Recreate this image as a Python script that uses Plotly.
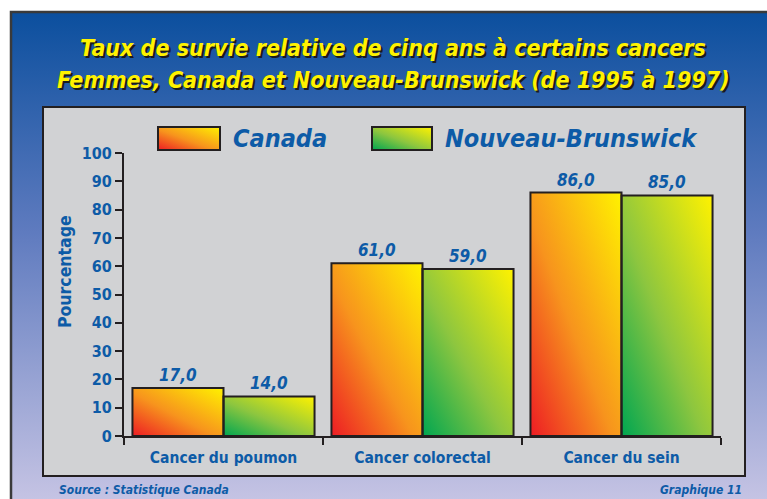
import base64
import plotly.graph_objects as go

# ---------------- data ----------------
categories = ["Cancer du poumon", "Cancer colorectal", "Cancer du sein"]
canada = [17.0, 61.0, 86.0]
nouveau_brunswick = [14.0, 59.0, 85.0]
series_names = ["Canada", "Nouveau-Brunswick"]
y_ticks = [0, 10, 20, 30, 40, 50, 60, 70, 80, 90, 100]

title_lines = ["Taux de survie relative de cinq ans à certains cancers",
               "Femmes, Canada et Nouveau-Brunswick (de 1995 à 1997)"]
y_title = "Pourcentage"
source_text = "Source : Statistique Canada"
graph_text = "Graphique 11"

# ---------------- styles ----------------
W, H = 767, 499
L, R, T, B = 124, 46, 153, 63
PW, PH = W - L - R, H - T - B
BLUE = "#0d5ba7"
YELLOW = "#fff200"
DARK = "#231f20"
COND = "'DejaVu Sans Condensed', 'Liberation Sans Narrow', sans-serif"
BARGAP = 0.085

can_stops = [(0, "#ed1c24"), (0.45, "#f7941d"), (1, "#fff200")]
nb_stops = [(0, "#00a651"), (0.45, "#8dc63f"), (1, "#fff200")]


def px(x):
    """screen x (pixels) -> paper fraction"""
    return (x - L) / PW


def py(y):
    """screen y (pixels) -> paper fraction"""
    return (H - B - y) / PH


def grad_svg(stops, x1=0, y1=1, x2=1, y2=0):
    st = "".join(f'<stop offset="{o}" stop-color="{c}"/>' for o, c in stops)
    svg = (f'<svg xmlns="http://www.w3.org/2000/svg" width="100" height="100" '
           f'viewBox="0 0 100 100" preserveAspectRatio="none">'
           f'<defs><linearGradient id="g" x1="{x1}" y1="{y1}" x2="{x2}" y2="{y2}">{st}</linearGradient></defs>'
           f'<rect x="0" y="0" width="100" height="100" fill="url(#g)"/></svg>')
    return "data:image/svg+xml;base64," + base64.b64encode(svg.encode()).decode()


CAN_IMG = grad_svg(can_stops)
NB_IMG = grad_svg(nb_stops)
BG_IMG = grad_svg([(0, "#0b4f9e"), (0.45, "#5f7bbf"), (1, "#c6c4e4")], 0, 0, 0, 1)

fig = go.Figure()

for name, vals in zip(series_names, [canada, nouveau_brunswick]):
    fig.add_trace(go.Bar(
        x=categories, y=vals, name=name,
        marker=dict(color="rgba(0,0,0,0)", line=dict(color=DARK, width=2)),
        texttemplate="%{y:.1f}", textposition="outside",
        textfont=dict(family=COND, size=17, color=BLUE, weight="bold", style="italic"),
        cliponaxis=False, showlegend=False,
    ))

images = []
# background gradient
images.append(dict(source=BG_IMG, xref="paper", yref="paper", x=px(11), y=py(12),
                   sizex=px(770) - px(11), sizey=py(12) - py(502), xanchor="left", yanchor="top",
                   sizing="stretch", layer="below"))
# gradient fills of the bars, positioned from data
half = (1 - BARGAP) / 2
for i, (c, n) in enumerate(zip(canada, nouveau_brunswick)):
    images.append(dict(source=CAN_IMG, xref="x", yref="y", x=i - half, y=0, sizex=half, sizey=c,
                       xanchor="left", yanchor="bottom", sizing="stretch", layer="below"))
    images.append(dict(source=NB_IMG, xref="x", yref="y", x=i, y=0, sizex=half, sizey=n,
                       xanchor="left", yanchor="bottom", sizing="stretch", layer="below"))
# legend swatches
leg = [(158, 220, CAN_IMG), (372, 432, NB_IMG)]
for x0, x1, src in leg:
    images.append(dict(source=src, xref="paper", yref="paper", x=px(x0), y=py(127),
                       sizex=px(x1) - px(x0), sizey=py(127) - py(150), xanchor="left", yanchor="top",
                       sizing="stretch", layer="above"))

shapes = [
    # outer frame
    dict(type="rect", xref="paper", yref="paper", x0=px(11), x1=px(772), y0=py(12), y1=py(504),
         line=dict(color="#3a3a3a", width=2.5), fillcolor="rgba(0,0,0,0)", layer="below"),
    # gray panel
    dict(type="rect", xref="paper", yref="paper", x0=px(43), x1=px(745), y0=py(107), y1=py(476),
         line=dict(color=DARK, width=2), fillcolor="#d1d2d4", layer="below"),
]
for x0, x1, _ in leg:
    shapes.append(dict(type="rect", xref="paper", yref="paper", x0=px(x0), x1=px(x1),
                       y0=py(127), y1=py(150), line=dict(color=DARK, width=2), layer="above"))

ann = []
for k, line in enumerate(title_lines):
    ann.append(dict(text=line, xref="paper", yref="paper", x=px(393), y=py(48 + 32 * k),
                    xanchor="center", yanchor="middle", showarrow=False,
                    font=dict(family=COND, size=23, color=YELLOW, weight="bold", style="italic",
                              shadow="2px 2px 0px #1b1b1b")))
for (x0, x1, _), name in zip(leg, series_names):
    ann.append(dict(text=name, xref="paper", yref="paper", x=px(x1 + 11), y=py(138),
                    xanchor="left", yanchor="middle", showarrow=False,
                    font=dict(family=COND, size=25, color=BLUE, weight="bold", style="italic")))
ann.append(dict(text=y_title, xref="paper", yref="paper", x=px(65), y=py(272), textangle=-90,
                xanchor="center", yanchor="middle", showarrow=False,
                font=dict(family=COND, size=17.5, color=BLUE, weight="bold")))
ann.append(dict(text=source_text, xref="paper", yref="paper", x=px(57), y=py(490),
                xanchor="left", yanchor="middle", showarrow=False,
                font=dict(family=COND, size=12, color=BLUE, weight="bold", style="italic")))
ann.append(dict(text=graph_text, xref="paper", yref="paper", x=px(744), y=py(490),
                xanchor="right", yanchor="middle", showarrow=False,
                font=dict(family=COND, size=12, color=BLUE, weight="bold", style="italic")))

fig.update_layout(
    width=W, height=H, margin=dict(l=L, r=R, t=T, b=B, pad=0),
    paper_bgcolor="white", plot_bgcolor="rgba(0,0,0,0)",
    barmode="group", bargap=BARGAP, bargroupgap=0,
    separators=",.", showlegend=False,
    images=images, shapes=shapes, annotations=ann,
    xaxis=dict(type="category", tickson="boundaries", ticks="outside", ticklen=7, tickwidth=2,
               tickcolor=DARK, showline=True, linecolor=DARK, linewidth=2, showgrid=False,
               ticklabelstandoff=6,
               tickfont=dict(family=COND, size=15.5, color=BLUE, weight="bold"), zeroline=False),
    yaxis=dict(range=[0, 100], tickvals=y_ticks, ticks="outside", ticklen=7, tickwidth=2,
               tickcolor=DARK, showline=True, linecolor=DARK, linewidth=2, showgrid=False,
               zeroline=False, tickfont=dict(family=COND, size=16, color=BLUE, weight="bold")),
)

fig.write_html(
    "out.html",
    config={"displayModeBar": False},
    post_script="document.body.style.margin='0';"
                "document.documentElement.style.overflow='hidden';"
                "document.body.style.overflow='hidden';",
)
